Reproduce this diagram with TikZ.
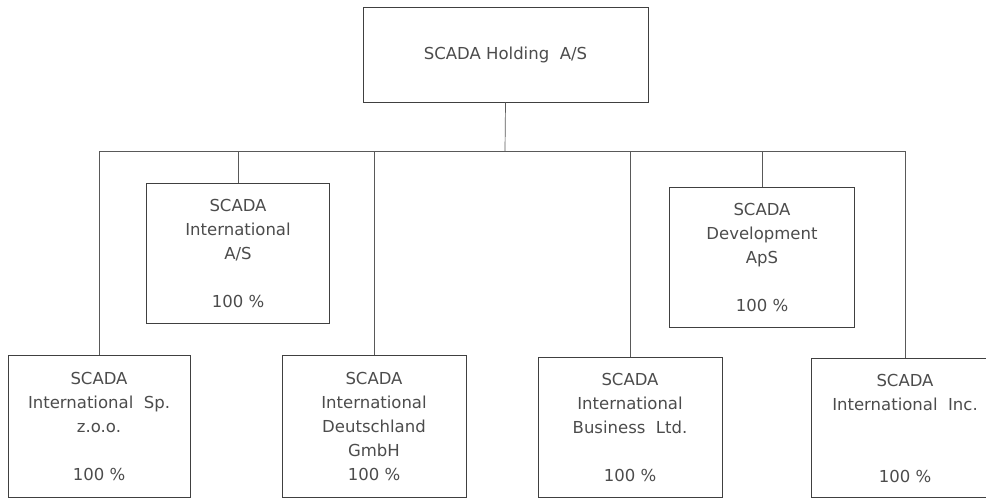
\documentclass[tikz,border=0pt]{standalone}
\usepackage{fontspec}
\setmainfont{DejaVu Sans}
\begin{document}
\begin{tikzpicture}[x=1pt,y=-1pt,
  box/.style={draw=black!75, line width=0.8pt, rectangle, inner sep=0pt,
    align=center, text=black!70, font=\fontsize{16.5}{24}\selectfont},
  conn/.style={draw=black!65, line width=0.7pt}]
\useasboundingbox (0,0) rectangle (986,499);
\clip (0,0) rectangle (986,499);
\node[box, minimum width=285, minimum height=95] (top) at (505.5,54.5) {SCADA Holding\ \ A/S};
\node[box, minimum width=183, minimum height=140] (intl) at (238,253) {SCADA\\International\\A/S\\~\\100 \%};
\node[box, minimum width=185, minimum height=140] (dev) at (762,257) {SCADA\\Development\\ApS\\~\\100 \%};
\node[box, minimum width=182, minimum height=142] (b1) at (99,426) {SCADA\\International\ \ Sp.\\z.o.o.\\~\\100 \%};
\node[box, minimum width=184, minimum height=142] (b2) at (374,426) {SCADA\\International\\Deutschland\\GmbH\\100 \%};
\node[box, minimum width=184, minimum height=140] (b3) at (630,427.5) {SCADA\\International\\Business\ \ Ltd.\\~\\100 \%};
\node[box, minimum width=188, minimum height=139] (b4) at (905,428) {SCADA\\International\ \ Inc.\\~\\~\\100 \%};
\coordinate (bus) at (505,151);
\draw[conn] (top.south) -- (bus);
\draw[conn] (b1.north) -- (b1.north |- bus) -- (b4.north |- bus) -- (b4.north);
\draw[conn] (intl.north) -- (intl.north |- bus);
\draw[conn] (b2.north) -- (b2.north |- bus);
\draw[conn] (b3.north) -- (b3.north |- bus);
\draw[conn] (dev.north) -- (dev.north |- bus);
\end{tikzpicture}
\end{document}
